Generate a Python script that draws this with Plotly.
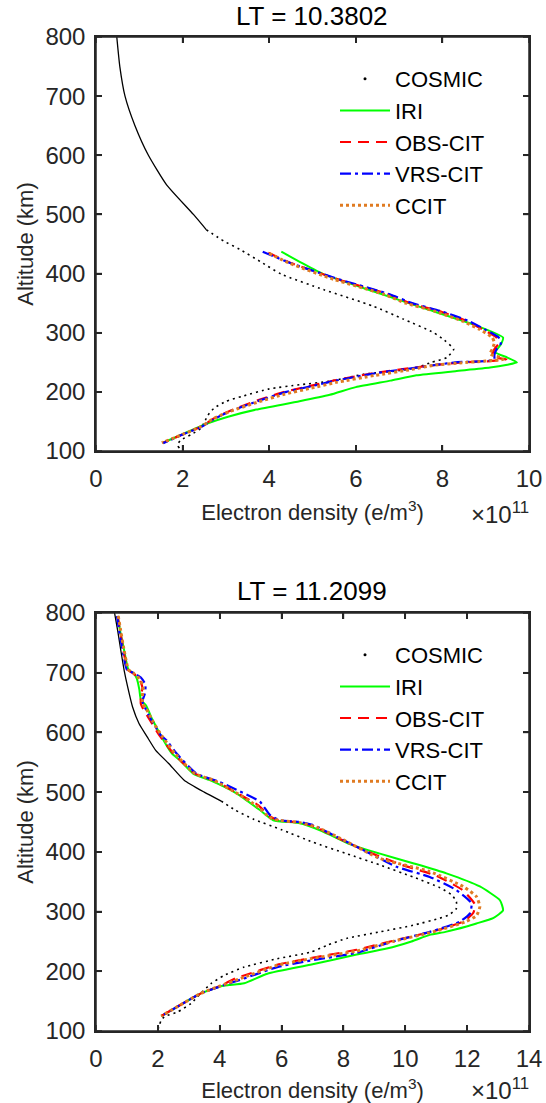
import plotly.graph_objects as go

# ---- panel 1 : LT = 10.3802 ----
cos1_up_alt = [800, 750, 700, 650, 600, 550, 500, 474]
cos1_up_ne = [0.48, 0.55, 0.67, 0.90, 1.21, 1.63, 2.25, 2.55]
cos1_lo_alt = [474, 455, 441, 420, 399, 373, 345, 323, 300, 287, 272, 258, 250, 241, 236, 230,
               218, 212, 205, 193, 184, 172, 160, 148, 137, 128, 118, 110, 104, 100]
cos1_lo_ne = [2.55, 2.95, 3.32, 3.80, 4.28, 5.25, 6.40, 7.10, 7.80, 8.05, 8.26, 8.10, 7.75, 7.41, 7.02, 6.20,
              5.40, 4.70, 4.00, 3.40, 3.00, 2.72, 2.58, 2.50, 2.40, 2.20, 1.95, 1.88, 1.93, 1.90]

iri1_alt = [437, 418, 399, 370, 342, 314, 292, 280, 267, 258, 250, 246, 241, 235, 228, 219,
            208, 195, 184, 170, 158, 146, 130, 114]
iri1_ne = [4.28, 4.75, 5.25, 6.40, 7.55, 8.71, 9.40, 9.35, 9.22, 9.50, 9.72, 9.50, 9.10, 8.30, 7.40, 6.80,
           6.00, 5.40, 4.70, 3.70, 3.05, 2.55, 2.05, 1.55]

obs1_alt = [435, 418, 390, 365, 350, 337, 320, 306, 292, 282, 272, 262, 257, 255, 252, 250, 246,
            241, 232, 220, 210, 200, 186, 168, 155, 141, 128, 114]
obs1_ne = [3.98, 4.50, 5.60, 6.75, 7.25, 7.90, 8.55, 8.92, 9.25, 9.30, 9.20, 9.15, 9.30, 9.48, 9.10, 8.50, 7.90,
           7.35, 6.45, 5.55, 4.95, 4.35, 3.75, 3.10, 2.72, 2.42, 2.00, 1.55]

vrs1_alt = [437, 418, 390, 365, 350, 337, 320, 306, 292, 282, 272, 262, 255, 252, 250, 246,
            241, 232, 220, 210, 200, 186, 168, 155, 141, 128, 113]
vrs1_ne = [3.85, 4.48, 5.63, 6.78, 7.30, 7.94, 8.60, 8.97, 9.30, 9.35, 9.25, 9.20, 9.20, 9.00, 8.30, 7.90,
           7.40, 6.50, 5.60, 5.00, 4.40, 3.80, 3.13, 2.75, 2.44, 2.00, 1.55]

ccit1_alt = [434, 418, 390, 365, 350, 337, 320, 306, 292, 283, 272, 264, 258, 255, 252, 249,
             245, 238, 228, 216, 206, 196, 183, 167, 155, 141, 128, 114]
ccit1_ne = [4.00, 4.45, 5.50, 6.65, 7.15, 7.80, 8.45, 8.85, 9.15, 9.20, 9.15, 9.10, 9.35, 9.40, 9.00, 8.40,
            7.80, 7.30, 6.45, 5.55, 4.95, 4.35, 3.75, 3.10, 2.72, 2.42, 2.00, 1.52]

# ---- panel 2 : LT = 11.2099 ----
cos2_up_alt = [800, 771, 738, 704, 677, 643, 615, 593, 570, 548, 520, 500, 485]
cos2_up_ne = [0.60, 0.70, 0.80, 0.91, 1.02, 1.18, 1.39, 1.65, 1.93, 2.35, 2.85, 3.50, 4.05]
cos2_lo_alt = [485, 470, 455, 437, 416, 397, 378, 358, 340, 328, 317, 305, 294, 289, 277, 266, 255,
               244, 232, 221, 207, 193, 179, 163, 146, 132, 124, 118, 110, 102]
cos2_lo_ne = [4.05, 4.50, 5.08, 6.00, 7.02, 8.10, 9.18, 10.25, 11.12, 11.50, 11.65, 11.65, 11.40, 11.12, 10.25,
              9.18, 8.10, 7.50, 6.93, 5.86, 4.79, 4.14, 3.71, 3.39, 3.07, 2.64, 2.21, 2.11, 2.05, 2.00]

iri2_alt = [795, 770, 740, 705, 699, 690, 672, 655, 645, 622, 590, 565, 553, 531, 520, 498, 470, 453,
            448, 435, 413, 397, 381, 364, 342, 319, 302, 289, 280, 275, 266, 261, 250, 238, 228, 211,
            196, 180, 177, 175, 163, 141, 125]
iri2_ne = [0.70, 0.78, 0.90, 1.05, 1.22, 1.32, 1.40, 1.45, 1.62, 1.82, 2.15, 2.45, 2.72, 3.14, 3.68, 4.54,
           5.30, 5.73, 6.59, 7.30, 8.20, 9.18, 10.25, 11.33, 12.41, 13.06, 13.16, 12.84, 12.30, 11.98,
           11.30, 10.79, 10.20, 9.40, 8.43, 6.93, 5.54, 4.79, 4.30, 4.04, 3.39, 2.64, 2.11]

obs2_alt = [795, 770, 740, 705, 699, 690, 675, 660, 648, 637, 620, 595, 565, 531, 518, 500, 478, 460,
            453, 449, 442, 426, 400, 378, 360, 336, 312, 298, 284, 267, 251, 236, 222, 211, 193, 188,
            176, 163, 141, 125]
obs2_ne = [0.70, 0.78, 0.88, 1.02, 1.20, 1.40, 1.50, 1.45, 1.45, 1.55, 1.75, 2.05, 2.50, 3.20, 3.90, 4.50,
           5.25, 5.60, 5.90, 6.60, 7.10, 7.70, 8.80, 9.90, 11.00, 11.85, 12.25, 12.20, 11.90, 10.90, 9.60,
           8.43, 6.93, 5.86, 4.79, 4.50, 4.04, 3.39, 2.64, 2.11]

vrs2_alt = [795, 770, 740, 705, 700, 692, 680, 665, 652, 640, 620, 595, 587, 565, 531, 517, 504, 484,
            462, 453, 450, 445, 431, 403, 375, 358, 336, 314, 297, 283, 266, 250, 231, 218, 207, 188,
            175, 163, 141, 125]
vrs2_ne = [0.68, 0.75, 0.85, 1.00, 1.20, 1.45, 1.60, 1.58, 1.50, 1.60, 1.80, 2.10, 2.28, 2.60, 3.25, 4.00,
           4.54, 5.30, 5.62, 5.94, 6.59, 7.02, 7.56, 8.64, 9.72, 10.79, 11.65, 12.14, 12.09, 11.76, 10.79,
           9.60, 8.43, 6.93, 5.86, 4.79, 4.04, 3.39, 2.64, 2.11]

ccit2_alt = [795, 770, 740, 705, 699, 690, 677, 660, 648, 640, 620, 595, 565, 531, 520, 500, 475, 458,
             453, 449, 440, 420, 389, 367, 342, 325, 308, 293, 283, 266, 250, 234, 221, 210, 190, 176,
             163, 141, 125]
ccit2_ne = [0.72, 0.80, 0.90, 1.05, 1.22, 1.40, 1.52, 1.50, 1.50, 1.62, 1.82, 2.12, 2.55, 3.20, 3.80, 4.50,
            5.25, 5.60, 5.90, 6.60, 7.20, 8.00, 9.18, 10.79, 11.87, 12.30, 12.41, 12.30, 11.95, 10.90, 9.60,
            8.43, 6.93, 5.86, 4.79, 4.04, 3.39, 2.64, 2.11]

titles = ["LT = 10.3802", "LT = 11.2099"]
x_ticks = [[0, 2, 4, 6, 8, 10], [0, 2, 4, 6, 8, 10, 12, 14]]
y_ticks = [100, 200, 300, 400, 500, 600, 700, 800]

FONT = "Liberation Sans, Arial, sans-serif"
AX = "#262626"
ORANGE = "#E07B22"

H = 1103.0
xdom = [96 / 546, 529 / 546]
ydom1 = [1 - 451 / H, 1 - 37 / H]
ydom2 = [1 - 1031 / H, 1 - 613 / H]

panels = [
    dict(cu=(cos1_up_ne, cos1_up_alt), cl=(cos1_lo_ne, cos1_lo_alt), iri=(iri1_ne, iri1_alt),
         obs=(obs1_ne, obs1_alt), vrs=(vrs1_ne, vrs1_alt), ccit=(ccit1_ne, ccit1_alt)),
    dict(cu=(cos2_up_ne, cos2_up_alt), cl=(cos2_lo_ne, cos2_lo_alt), iri=(iri2_ne, iri2_alt),
         obs=(obs2_ne, obs2_alt), vrs=(vrs2_ne, vrs2_alt), ccit=(ccit2_ne, ccit2_alt)),
]

fig = go.Figure()

for i, p in enumerate(panels):
    xa, ya = ("x", "y") if i == 0 else ("x2", "y2")
    leg = "legend" if i == 0 else "legend2"
    sm = dict(shape="spline", smoothing=0.5)
    # COSMIC: dense part looks solid, sparse part looks dotted
    fig.add_trace(go.Scatter(x=p["cu"][0], y=p["cu"][1], mode="lines",
                             line=dict(color="black", width=1.3, **sm),
                             xaxis=xa, yaxis=ya, showlegend=False))
    fig.add_trace(go.Scatter(x=p["cl"][0], y=p["cl"][1], mode="lines",
                             line=dict(color="black", width=1.6, dash="2px,4px", **sm),
                             xaxis=xa, yaxis=ya, showlegend=False))
    # legend entry for COSMIC (plotted with '.' markers)
    fig.add_trace(go.Scatter(x=[None], y=[None], mode="markers", name="COSMIC",
                             marker=dict(color="black", size=3), xaxis=xa, yaxis=ya, legend=leg))
    fig.add_trace(go.Scatter(x=p["iri"][0], y=p["iri"][1], mode="lines", name="IRI",
                             line=dict(color="#00FF00", width=2, **sm), xaxis=xa, yaxis=ya, legend=leg))
    fig.add_trace(go.Scatter(x=p["obs"][0], y=p["obs"][1], mode="lines", name="OBS-CIT",
                             line=dict(color="#FF0000", width=2.2, dash="11px,7px", **sm),
                             xaxis=xa, yaxis=ya, legend=leg))
    fig.add_trace(go.Scatter(x=p["vrs"][0], y=p["vrs"][1], mode="lines", name="VRS-CIT",
                             line=dict(color="#0000FF", width=2.2, dash="11px,4px,3px,4px", **sm),
                             xaxis=xa, yaxis=ya, legend=leg))
    fig.add_trace(go.Scatter(x=p["ccit"][0], y=p["ccit"][1], mode="lines", name="CCIT",
                             line=dict(color=ORANGE, width=3, dash="3px,3px", **sm),
                             xaxis=xa, yaxis=ya, legend=leg))

    # MATLAB-style box with inside ticks on all four sides, built from the tick lists
    xt = x_ticks[i]
    x0, x1, y0, y1 = xt[0], xt[-1], y_ticks[0], y_ticks[-1]
    ydom = ydom1 if i == 0 else ydom2
    dy = 6 / ((ydom[1] - ydom[0]) * H) * (y1 - y0)
    dx = 6 / ((xdom[1] - xdom[0]) * 546) * (x1 - x0)
    bx, by = [x0, x1, x1, x0, x0, None], [y0, y0, y1, y1, y0, None]
    for t in xt:
        bx += [t, t, None, t, t, None]
        by += [y0, y0 + dy, None, y1, y1 - dy, None]
    for t in y_ticks:
        bx += [x0, x0 + dx, None, x1, x1 - dx, None]
        by += [t, t, None, t, t, None]
    fig.add_trace(go.Scatter(x=bx, y=by, mode="lines", line=dict(color=AX, width=1.5),
                             xaxis=xa, yaxis=ya, showlegend=False, hoverinfo="skip", cliponaxis=False))


def xaxis(ticks, dom, anchor):
    return dict(range=[ticks[0], ticks[-1]], domain=dom, anchor=anchor, tickvals=ticks, showline=True,
                mirror="ticks", linecolor=AX, linewidth=1.5, ticks="inside", ticklen=6, tickwidth=1.5,
                tickcolor=AX, showgrid=False, zeroline=False, automargin=False,
                tickfont=dict(size=24, color=AX), ticklabelstandoff=5,
                title=dict(text="Electron density (e/m<sup>3</sup>)", font=dict(size=22, color=AX), standoff=14))


def yaxis(dom, anchor):
    return dict(range=[y_ticks[0], y_ticks[-1]], domain=dom, anchor=anchor, tickvals=y_ticks, showline=True,
                mirror="ticks", linecolor=AX, linewidth=1.5, ticks="inside", ticklen=6, tickwidth=1.5,
                tickcolor=AX, showgrid=False, zeroline=False, automargin=False,
                tickfont=dict(size=24, color=AX), ticklabelstandoff=4,
                title=dict(text="Altitude (km)", font=dict(size=22, color=AX), standoff=6))


legend_common = dict(xanchor="left", yanchor="top", bgcolor="rgba(0,0,0,0)", borderwidth=0,
                     font=dict(family=FONT, size=22, color="black"), itemwidth=50, tracegroupgap=0)

fig.update_layout(
    width=546, height=1103,
    margin=dict(l=0, r=0, t=0, b=0),
    paper_bgcolor="white", plot_bgcolor="white",
    font=dict(family=FONT, color=AX),
    xaxis=xaxis(x_ticks[0], xdom, "y"),
    yaxis=yaxis(ydom1, "x"),
    xaxis2=xaxis(x_ticks[1], xdom, "y2"),
    yaxis2=yaxis(ydom2, "x2"),
    legend=dict(x=335 / 546, y=1 - 58 / H, **legend_common),
    legend2=dict(x=335 / 546, y=1 - 634 / H, **legend_common),
    annotations=[
        dict(text=titles[0], x=0.5723, y=1 - 33 / H, xref="paper", yref="paper", xanchor="center",
             yanchor="bottom", showarrow=False, font=dict(size=26, color="black")),
        dict(text=titles[1], x=0.5723, y=1 - 608 / H, xref="paper", yref="paper", xanchor="center",
             yanchor="bottom", showarrow=False, font=dict(size=26, color="black")),
        dict(text="\u00d710<sup>11</sup>", x=531 / 546, y=1 - 513 / H, xref="paper", yref="paper",
             xanchor="right", yanchor="middle", showarrow=False, font=dict(size=24, color=AX)),
        dict(text="\u00d710<sup>11</sup>", x=531 / 546, y=1 - 1089 / H, xref="paper", yref="paper",
             xanchor="right", yanchor="middle", showarrow=False, font=dict(size=24, color=AX)),
    ],
)

# the page's default body margin would shift the figure and add scrollbars
fig.write_html("out.html", config={"displayModeBar": False},
               post_script="document.body.style.margin='0';document.body.style.overflow='hidden';")
